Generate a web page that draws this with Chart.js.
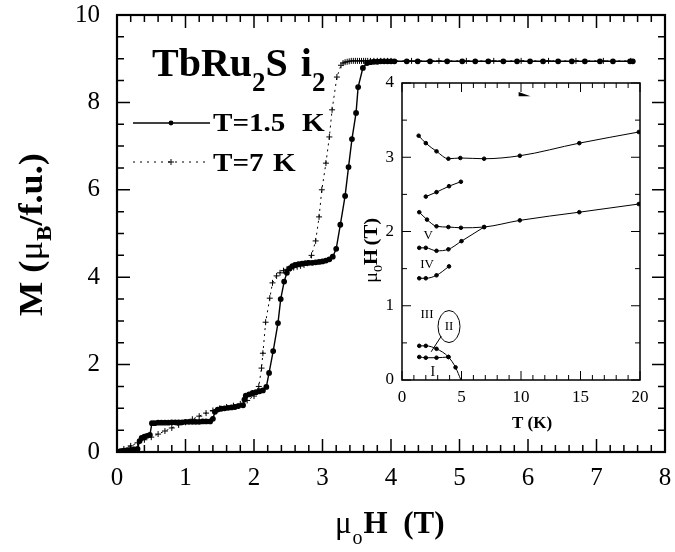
<!DOCTYPE html>
<html>
<head>
<meta charset="utf-8">
<script src="https://cdn.jsdelivr.net/npm/chart.js@4.4.0/dist/chart.umd.min.js"></script>
<style>
  html, body { margin: 0; padding: 0; background: #fff; }
  #wrap { position: relative; width: 675px; height: 552px; }
  #main { position: absolute; left: 0; top: 0; }
  #inset { position: absolute; left: 355px; top: 72px; }
</style>
</head>
<body>
<div id="wrap">
  <canvas id="main" width="675" height="552"></canvas>
  <canvas id="inset" width="297" height="363"></canvas>
</div>
<script>
// M(H) at T = 1.5 K
const fieldLow = [0, 0.05, 0.1, 0.15, 0.2, 0.25, 0.3, 0.33, 0.36, 0.4, 0.44, 0.48, 0.51, 0.55, 0.6, 0.65, 0.7, 0.75, 0.8, 0.85, 0.9, 0.95, 1.0, 1.05, 1.1, 1.15, 1.2, 1.25, 1.3, 1.36, 1.4, 1.43, 1.47, 1.52, 1.57, 1.62, 1.67, 1.72, 1.77, 1.84, 1.86, 1.88, 1.93, 1.98, 2.03, 2.08, 2.13, 2.18, 2.22, 2.28, 2.35, 2.39, 2.44, 2.48, 2.52, 2.56, 2.6, 2.65, 2.7, 2.75, 2.8, 2.85, 2.9, 2.95, 3.0, 3.05, 3.1, 3.15, 3.2, 3.26, 3.33, 3.38, 3.43, 3.49, 3.52, 3.59, 3.65, 3.7, 3.75, 3.8, 3.85, 3.9, 3.95, 4.0, 4.05, 4.23, 4.39, 4.57, 4.82, 5.04, 5.23, 5.42, 5.64, 5.84, 6.03, 6.22, 6.44, 6.64, 6.83, 7.05, 7.24, 7.49, 7.53];
const momentLow = [0, 0.02, 0.03, 0.04, 0.05, 0.06, 0.07, 0.25, 0.32, 0.35, 0.37, 0.39, 0.66, 0.66, 0.67, 0.67, 0.67, 0.67, 0.68, 0.68, 0.68, 0.68, 0.69, 0.69, 0.69, 0.69, 0.69, 0.7, 0.7, 0.7, 0.76, 0.92, 0.97, 0.99, 1.0, 1.01, 1.02, 1.03, 1.05, 1.07, 1.2, 1.29, 1.32, 1.35, 1.37, 1.39, 1.41, 1.49, 1.81, 2.31, 2.95, 3.5, 3.9, 4.1, 4.2, 4.25, 4.28, 4.3, 4.31, 4.32, 4.33, 4.33, 4.34, 4.35, 4.36, 4.38, 4.41, 4.47, 4.65, 5.2, 5.86, 6.52, 7.16, 7.76, 8.35, 8.79, 8.9, 8.92, 8.93, 8.93, 8.94, 8.94, 8.94, 8.94, 8.94, 8.94, 8.94, 8.94, 8.94, 8.94, 8.94, 8.94, 8.94, 8.94, 8.94, 8.94, 8.94, 8.94, 8.94, 8.94, 8.94, 8.94, 8.94];

// M(H) at T = 7 K
const fieldHigh = [0, 0.1, 0.2, 0.3, 0.4, 0.5, 0.6, 0.7, 0.8, 0.9, 1.0, 1.1, 1.2, 1.3, 1.4, 1.5, 1.6, 1.7, 1.8, 1.9, 2.0, 2.07, 2.11, 2.13, 2.17, 2.23, 2.27, 2.33, 2.38, 2.43, 2.48, 2.53, 2.58, 2.63, 2.68, 2.73, 2.78, 2.84, 2.9, 2.95, 2.99, 3.05, 3.1, 3.14, 3.21, 3.27, 3.3, 3.33, 3.36, 3.39, 3.42, 3.45, 3.48, 3.51, 3.54, 3.57, 3.6, 3.63, 3.66, 3.7, 3.75, 3.8, 3.85, 3.9, 3.95, 4.0, 4.3, 4.7, 5.1, 5.5, 5.9, 6.3, 6.7, 7.1, 7.5];
const momentHigh = [0, 0.07, 0.14, 0.21, 0.28, 0.34, 0.41, 0.48, 0.55, 0.62, 0.68, 0.75, 0.82, 0.89, 0.95, 1.0, 1.03, 1.06, 1.1, 1.18, 1.28, 1.5, 1.92, 2.26, 2.97, 3.52, 3.87, 4.03, 4.1, 4.15, 4.18, 4.2, 4.22, 4.24, 4.26, 4.28, 4.32, 4.5, 4.83, 5.38, 6.0, 6.61, 7.21, 7.83, 8.58, 8.85, 8.9, 8.92, 8.93, 8.94, 8.95, 8.95, 8.95, 8.95, 8.95, 8.95, 8.95, 8.95, 8.95, 8.95, 8.95, 8.95, 8.95, 8.95, 8.95, 8.95, 8.95, 8.95, 8.95, 8.95, 8.95, 8.95, 8.95, 8.95, 8.95];

const fieldTicks = [0, 1, 2, 3, 4, 5, 6, 7, 8];
const momentTicks = [0, 2, 4, 6, 8, 10];

// inset: phase boundaries, mu0H (T) vs T (K)
const upperT = [1.4, 2.0, 2.9, 3.9, 4.9, 6.9, 9.9, 14.9, 19.9];
const upperH = [3.29, 3.19, 3.08, 2.98, 2.99, 2.98, 3.02, 3.19, 3.34];
const shortT = [2.0, 2.9, 3.95, 4.95];
const shortH = [2.47, 2.53, 2.61, 2.67];
const middleT = [1.45, 2.1, 2.9, 3.9, 4.95, 6.9, 9.9, 14.9, 19.9];
const middleH = [2.26, 2.16, 2.07, 2.06, 2.05, 2.06, 2.15, 2.26, 2.37];
const fiveT = [1.45, 2.0, 2.9, 3.9, 5.0, 6.9];
const fiveH = [1.78, 1.78, 1.74, 1.76, 1.87, 2.06];
const fourT = [1.45, 2.0, 2.9, 3.95];
const fourH = [1.37, 1.37, 1.41, 1.53];
const outerT = [1.45, 2.0, 2.9, 3.9, 4.5, 4.95];
const outerH = [0.46, 0.46, 0.42, 0.31, 0.17, 0];
const innerT = [1.45, 2.0, 2.9, 3.9];
const innerH = [0.31, 0.30, 0.30, 0.31];

const tempTicks = [0, 5, 10, 15, 20];
const critTicks = [0, 1, 2, 3, 4];

const SERIF = 'Liberation Serif';
const pts = (xs, ys) => xs.map((x, i) => ({x: x, y: ys[i]}));

// draw a row of text pieces (font, offset) one after another
function runText(ctx, x, y, parts, sx) {
  ctx.save();
  ctx.translate(x, y);
  ctx.scale(sx || 1, 1);
  let cx = 0;
  parts.forEach(p => {
    ctx.font = p[1];
    ctx.fillText(p[0], cx, p[2] || 0);
    cx += ctx.measureText(p[0]).width + (p[3] || 0);
  });
  ctx.restore();
}

// keep the chart area where the layout padding puts it
function fixX(h) {
  return s => { s.height = h; s.paddingLeft = 0; s.paddingRight = 0; };
}
function fixY(w) {
  return s => { s.width = w; s.paddingTop = 0; s.paddingBottom = 0; };
}

// box plus inward ticks on all four sides
const frame = {
  id: 'frame',
  afterDraw(chart, args, o) {
    const {ctx, chartArea: a, scales: {x, y}} = chart;
    ctx.save();
    ctx.strokeStyle = '#000';
    ctx.lineWidth = o.width;
    ctx.strokeRect(a.left, a.top, a.right - a.left, a.bottom - a.top);
    ctx.lineWidth = o.tickWidth;
    ctx.beginPath();
    const nx = Math.round((x.max - x.min) / o.xMinor);
    for (let i = 0; i <= nx; i++) {
      const v = x.min + i * o.xMinor;
      const px = x.getPixelForValue(v);
      const len = Math.abs(v / o.xMajor - Math.round(v / o.xMajor)) < 1e-6 ? o.major : o.minor;
      ctx.moveTo(px, a.bottom); ctx.lineTo(px, a.bottom - len);
      ctx.moveTo(px, a.top); ctx.lineTo(px, a.top + len);
    }
    const ny = Math.round((y.max - y.min) / o.yMinor);
    for (let i = 0; i <= ny; i++) {
      const v = y.min + i * o.yMinor;
      const py = y.getPixelForValue(v);
      const len = Math.abs(v / o.yMajor - Math.round(v / o.yMajor)) < 1e-6 ? o.major : o.minor;
      ctx.moveTo(a.left, py); ctx.lineTo(a.left + len, py);
      ctx.moveTo(a.right, py); ctx.lineTo(a.right - len, py);
    }
    ctx.stroke();
    ctx.restore();
  }
};

const mainText = {
  id: 'mainText',
  afterDraw(chart) {
    const ctx = chart.ctx;
    ctx.save();
    ctx.fillStyle = '#000';
    ctx.strokeStyle = '#000';
    ctx.textBaseline = 'alphabetic';
    const B = 'bold 40px ' + SERIF, b = 'bold 27px ' + SERIF;
    runText(ctx, 152, 76, [['TbRu', B], ['2', b, 15], ['S', B, 0, 13], ['i', B], ['2', b, 15]]);

    // legend
    const L = 'bold 26px ' + SERIF;
    ctx.lineWidth = 1.5;
    ctx.beginPath(); ctx.moveTo(133, 123); ctx.lineTo(210, 123); ctx.stroke();
    ctx.beginPath(); ctx.arc(171, 123, 2.4, 0, Math.PI * 2); ctx.fill();
    ctx.lineWidth = 1;
    ctx.setLineDash([2, 5]);
    ctx.beginPath(); ctx.moveTo(133, 162); ctx.lineTo(210, 162); ctx.stroke();
    ctx.setLineDash([]);
    ctx.beginPath(); ctx.moveTo(168, 162); ctx.lineTo(174, 162); ctx.moveTo(171, 159); ctx.lineTo(171, 165); ctx.stroke();
    runText(ctx, 213, 131, [['T=1.5', L]], 1.12);
    runText(ctx, 302, 131, [['K', L]], 1.12);
    runText(ctx, 213, 171, [['T=7', L]], 1.12);
    runText(ctx, 273, 171, [['K', L]], 1.12);

    // x title
    runText(ctx, 335, 533, [['\u03bc', '31px ' + SERIF, 0, 1], ['o', '20px ' + SERIF, 11, 1], ['H', 'bold 31px ' + SERIF, 0, 0], ['  (T)', 'bold 31px ' + SERIF]]);

    // y title
    ctx.save();
    ctx.translate(42, 316);
    ctx.rotate(-Math.PI / 2);
    runText(ctx, 0, 0, [['M (', 'bold 33px ' + SERIF], ['\u03bc', '33px ' + SERIF], ['B', 'bold 21px ' + SERIF, 9], ['/f.u.)', 'bold 33px ' + SERIF]], 1.1);
    ctx.restore();
    ctx.restore();
  }
};

const insetText = {
  id: 'insetText',
  afterDraw(chart) {
    const {ctx, scales: {x, y}} = chart;
    const X = v => x.getPixelForValue(v), Y = v => y.getPixelForValue(v);
    ctx.save();
    ctx.fillStyle = '#000';
    ctx.strokeStyle = '#000';
    ctx.textAlign = 'center';
    ctx.textBaseline = 'middle';
    ctx.font = '13px ' + SERIF;
    ctx.fillText('V', X(2.2), Y(1.95));
    ctx.fillText('IV', X(2.1), Y(1.56));
    ctx.fillText('III', X(2.1), Y(0.88));
    ctx.fillText('II', X(3.95), Y(0.72));
    ctx.font = '14px ' + SERIF;
    ctx.fillText('I', X(2.6), Y(0.11));
    ctx.lineWidth = 1;
    ctx.beginPath();
    ctx.ellipse(X(3.95), Y(0.72), 11, 16, 0, 0, Math.PI * 2);
    ctx.stroke();
    ctx.beginPath();
    ctx.moveTo(X(2.45), Y(0.38));
    ctx.lineTo(X(3.3), Y(0.59));
    ctx.stroke();
    // small mark near top axis
    ctx.beginPath();
    ctx.moveTo(X(9.8), Y(3.88));
    ctx.lineTo(X(9.8), Y(3.82));
    ctx.lineTo(X(10.8), Y(3.82));
    ctx.closePath();
    ctx.fill();

    ctx.textAlign = 'left';
    ctx.textBaseline = 'alphabetic';
    runText(ctx, 157, 356, [['T (K)', 'bold 17px ' + SERIF]]);
    ctx.save();
    ctx.translate(22, 211);
    ctx.rotate(-Math.PI / 2);
    runText(ctx, 0, 0, [['\u03bc', '18px ' + SERIF], ['0', '12px ' + SERIF, 5], ['H', 'bold 18px ' + SERIF, 0, 3], ['(T)', 'bold 18px ' + SERIF]], 1.15);
    ctx.restore();
    ctx.restore();
  }
};

new Chart(document.getElementById('main'), {
  type: 'scatter',
  data: {
    datasets: [
      {
        label: 'T=1.5 K',
        data: pts(fieldLow, momentLow),
        showLine: true,
        borderColor: '#000',
        backgroundColor: '#000',
        borderWidth: 1.4,
        pointRadius: 2.2,
        pointStyle: 'circle',
        tension: 0
      },
      {
        label: 'T=7 K',
        data: pts(fieldHigh, momentHigh),
        showLine: true,
        borderColor: '#000',
        backgroundColor: '#000',
        borderWidth: 1,
        borderDash: [2, 4],
        pointRadius: 3,
        pointStyle: 'cross',
        pointBorderWidth: 1,
        tension: 0
      }
    ]
  },
  options: {
    responsive: false,
    animation: false,
    events: [],
    layout: { padding: { top: 15, right: 10, left: 0, bottom: 0 } },
    plugins: {
      legend: { display: false },
      tooltip: { enabled: false },
      frame: { width: 2.2, tickWidth: 1.5, major: 13, minor: 7, xMinor: 0.2, xMajor: 1, yMinor: 0.5, yMajor: 2 }
    },
    scales: {
      x: {
        type: 'linear', min: 0, max: 8,
        afterBuildTicks: s => { s.ticks = fieldTicks.map(v => ({value: v})); },
        afterFit: fixX(100),
        grid: { display: false, drawTicks: false },
        border: { display: false },
        ticks: { color: '#000', padding: 11, font: { family: SERIF, size: 25 }, maxRotation: 0 }
      },
      y: {
        type: 'linear', min: 0, max: 10,
        afterBuildTicks: s => { s.ticks = momentTicks.map(v => ({value: v})); },
        afterFit: fixY(117),
        grid: { display: false, drawTicks: false },
        border: { display: false },
        ticks: { color: '#000', padding: 17, font: { family: SERIF, size: 25 } }
      }
    }
  },
  plugins: [frame, mainText]
});

const lineSet = (xs, ys) => ({
  data: pts(xs, ys),
  showLine: true,
  borderColor: '#000',
  backgroundColor: '#000',
  borderWidth: 1,
  pointRadius: c => (c.raw && c.raw.y === 0 ? 0 : 1.8),
  cubicInterpolationMode: 'monotone'
});

new Chart(document.getElementById('inset'), {
  type: 'scatter',
  data: {
    datasets: [
      lineSet(upperT, upperH),
      lineSet(shortT, shortH),
      lineSet(middleT, middleH),
      lineSet(fiveT, fiveH),
      lineSet(fourT, fourH),
      lineSet(outerT, outerH),
      lineSet(innerT, innerH)
    ]
  },
  options: {
    responsive: false,
    animation: false,
    events: [],
    layout: { padding: { top: 11, right: 12, left: 0, bottom: 0 } },
    plugins: {
      legend: { display: false },
      tooltip: { enabled: false },
      frame: { width: 1.5, tickWidth: 1, major: 9, minor: 5, xMinor: 1, xMajor: 5, yMinor: 0.5, yMajor: 1 }
    },
    scales: {
      x: {
        type: 'linear', min: 0, max: 20,
        afterBuildTicks: s => { s.ticks = tempTicks.map(v => ({value: v})); },
        afterFit: fixX(55),
        grid: { display: false, drawTicks: false },
        border: { display: false },
        ticks: { color: '#000', padding: 7, font: { family: SERIF, size: 17 }, maxRotation: 0 }
      },
      y: {
        type: 'linear', min: 0, max: 4,
        afterBuildTicks: s => { s.ticks = critTicks.map(v => ({value: v})); },
        afterFit: fixY(47),
        grid: { display: false, drawTicks: false },
        border: { display: false },
        ticks: { color: '#000', padding: 8, font: { family: SERIF, size: 17 } }
      }
    }
  },
  plugins: [frame, insetText]
});
</script>
</body>
</html>
